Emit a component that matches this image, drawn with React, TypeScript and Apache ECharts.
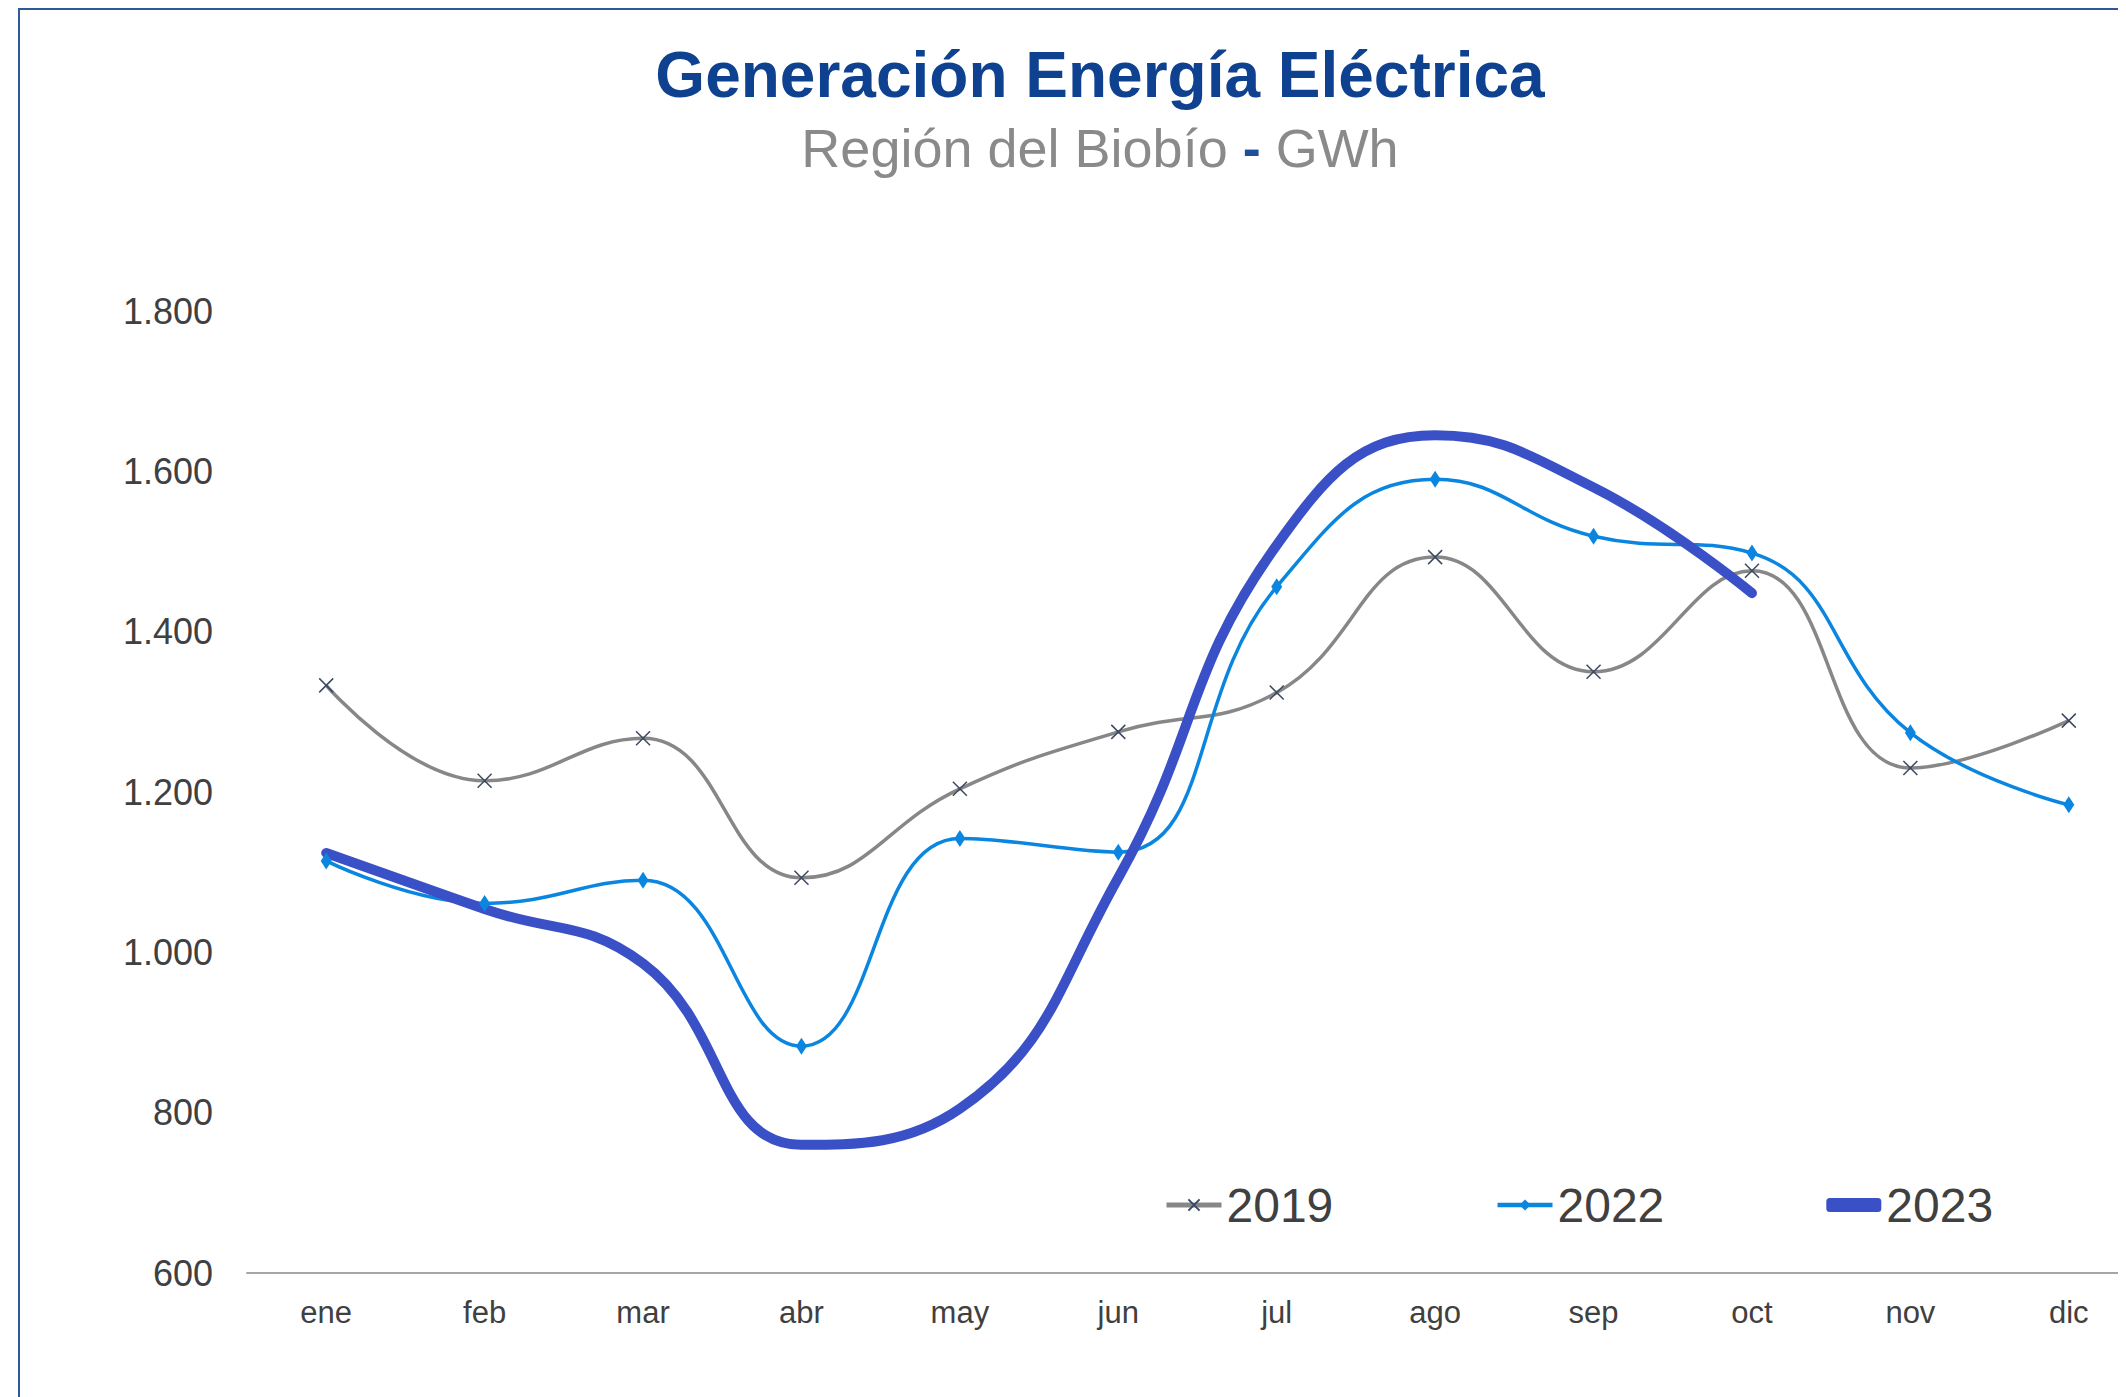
import React, { useEffect, useRef } from "react";
import * as echarts from "echarts";

const months = ["ene", "feb", "mar", "abr", "may", "jun", "jul", "ago", "sep", "oct", "nov", "dic"];
const serie2019 = [1333, 1214, 1267, 1093, 1204, 1275, 1324, 1493, 1350, 1476, 1230, 1289];
const serie2022 = [1114, 1061, 1090, 883, 1142, 1125, 1456, 1590, 1519, 1498, 1274, 1184];
const serie2023 = [1124, 1054, 986, 760, 805, 1093, 1508, 1645, 1580, 1448, null, null];
const legendNames = ["2019", "2022", "2023"];
const titleText = "Generación Energía Eléctrica";
const subtitleLeft = "Región del Biobío ";
const subtitleDash = "-";
const subtitleRight = " GWh";

const FONT = "'Liberation Sans', Arial, sans-serif";

function fmt(v: number): string {
  const s = String(Math.round(v));
  return s.replace(/\B(?=(\d{3})+(?!\d))/g, ".");
}

export default function App() {
  const ref = useRef<HTMLDivElement>(null);
  useEffect(() => {
    if (!ref.current) return;
    const chart = echarts.init(ref.current, undefined, { renderer: "svg" });
    chart.setOption({
      animation: false,
      backgroundColor: "#ffffff",
      graphic: [
        {
          type: "rect",
          shape: { x: 11, y: 1, width: 2400, height: 1600 },
          style: { fill: "none", stroke: "#2E5A9C", lineWidth: 2 },
          silent: true,
        },
        {
          type: "text",
          x: 1092,
          y: 67,
          style: {
            text: titleText,
            font: `bold 64px ${FONT}`,
            fill: "#0E4190",
            align: "center",
            verticalAlign: "middle",
          },
        },
        {
          type: "text",
          x: 1092,
          y: 140,
          style: {
            text: `{a|${subtitleLeft}}{b|${subtitleDash}}{a|${subtitleRight}}`,
            align: "center",
            verticalAlign: "middle",
            rich: {
              a: { fontSize: 54, fontFamily: FONT, fill: "#8A8A8A", color: "#8A8A8A" },
              b: { fontSize: 54, fontFamily: FONT, fontWeight: "bold", fill: "#1F4E9A", color: "#1F4E9A" },
            },
          },
        },
      ],
      legend: {
        left: 1156,
        top: 1173,
        padding: 0,
        itemWidth: 55,
        itemHeight: 14,
        itemGap: 162,
        textStyle: { fontSize: 48, color: "#404040", fontFamily: FONT },
        data: [
          { name: legendNames[0], lineStyle: { width: 5 } },
          { name: legendNames[1], lineStyle: { width: 4.5 } },
          { name: legendNames[2], icon: "roundRect" },
        ],
      },
      grid: { left: 239, top: 303, width: 1901, height: 962 },
      xAxis: {
        type: "category",
        data: months,
        boundaryGap: true,
        axisLine: { show: true, lineStyle: { color: "#A6A6A6", width: 2 } },
        axisTick: { show: false },
        axisLabel: { margin: 24, fontSize: 31, color: "#404040", fontFamily: FONT },
        splitLine: { show: false },
      },
      yAxis: {
        type: "value",
        min: 600,
        max: 1800,
        interval: 200,
        axisLine: { show: false },
        axisTick: { show: false },
        splitLine: { show: false },
        axisLabel: { margin: 34, fontSize: 36, color: "#404040", fontFamily: FONT, formatter: fmt },
      },
      series: [
        {
          name: legendNames[0],
          type: "line",
          data: serie2019,
          smooth: 0.45,
          symbol: "path://M0 0L10 10M10 0L0 10",
          symbolSize: 14,
          lineStyle: { color: "#878787", width: 3.5 },
          itemStyle: { color: "#3B4A63", borderColor: "#3B4A63", borderWidth: 1.5 },
        },
        {
          name: legendNames[1],
          type: "line",
          data: serie2022,
          smooth: 0.45,
          symbol: "diamond",
          symbolSize: [11, 17],
          lineStyle: { color: "#0B86E0", width: 3.5 },
          itemStyle: { color: "#0B86E0" },
        },
        {
          name: legendNames[2],
          type: "line",
          data: serie2023,
          smooth: 0.45,
          symbol: "none",
          connectNulls: false,
          lineStyle: { color: "#3A50C6", width: 10, cap: "round" },
          itemStyle: { color: "#3A50C6" },
        },
      ],
    });
    return () => chart.dispose();
  }, []);
  return (
    <div style={{ width: 2118, height: 1389, overflow: "hidden" }}>
      <div ref={ref} style={{ width: 2200, height: 1389 }} />
    </div>
  );
}
